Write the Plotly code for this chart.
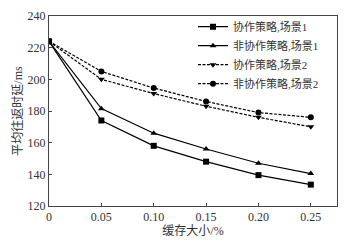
import plotly.graph_objects as go

x_vals = [0, 0.05, 0.10, 0.15, 0.20, 0.25]
coop_s1 = [224, 174, 158, 148, 139.5, 133.5]
noncoop_s1 = [224, 181.5, 166, 156, 147, 140.5]
coop_s2 = [224, 200, 191, 183, 176, 170]
noncoop_s2 = [224, 205, 194.5, 186, 179, 176]
names = ["协作策略,场景1", "非协作策略,场景1", "协作策略,场景2", "非协作策略,场景2"]
x_ticks = [0, 0.05, 0.10, 0.15, 0.20, 0.25]
x_tick_text = ["0", "0.05", "0.10", "0.15", "0.20", "0.25"]
y_ticks = [120, 140, 160, 180, 200, 220, 240]

FONT = "Liberation Serif, Noto Sans CJK SC"

fig = go.Figure()
series = [
    (coop_s1, names[0], "solid", "square"),
    (noncoop_s1, names[1], "solid", "triangle-up"),
    (coop_s2, names[2], "3px,1.5px", "triangle-down"),
    (noncoop_s2, names[3], "3px,1.5px", "circle"),
]
for ys, nm, dash, sym in series:
    fig.add_trace(go.Scatter(
        x=x_vals, y=ys, name=nm, mode="lines+markers",
        line=dict(color="black", width=1.2, dash=dash),
        marker=dict(symbol=sym, size=6, color="black"),
    ))

fig.update_layout(
    width=361, height=244,
    margin=dict(l=49, r=24, t=16, b=38),
    paper_bgcolor="white", plot_bgcolor="white",
    font=dict(family=FONT, size=12, color="#333"),
    showlegend=True,
    legend=dict(x=0.5, y=1.02, xanchor="left", yanchor="top",
                bgcolor="rgba(0,0,0,0)", borderwidth=0,
                font=dict(size=11, family=FONT), tracegroupgap=0,
                itemwidth=30),
)
fig.update_xaxes(
    range=[0, 0.275], tickvals=x_ticks, ticktext=x_tick_text,
    showgrid=False, zeroline=False, showline=True, linecolor="#444",
    linewidth=1, mirror=True, ticks="inside", ticklen=3, tickcolor="#444",
    title=dict(text="缓存大小/%", font=dict(size=12, family=FONT), standoff=2),
    tickfont=dict(size=12, family=FONT), automargin=False,
)
fig.update_yaxes(
    range=[120, 240], tickvals=y_ticks,
    showgrid=False, zeroline=False, showline=True, linecolor="#444",
    linewidth=1, mirror=True, ticks="inside", ticklen=3, tickcolor="#444",
    title=dict(text="平均往返时延/ms", font=dict(size=12, family=FONT), standoff=2),
    tickfont=dict(size=12, family=FONT), automargin=False,
)
fig.write_html("out.html", config={"displayModeBar": False},
               post_script="document.body.style.margin='0';")
